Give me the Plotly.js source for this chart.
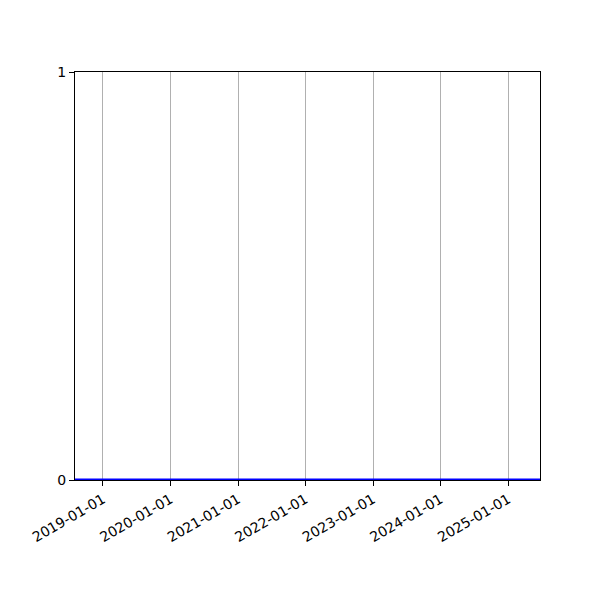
<!DOCTYPE html>
<html><head><meta charset="utf-8">
<script src="https://cdn.plot.ly/plotly-3.0.1.min.js"></script>
<style>body{margin:0;background:#fff}#c{width:600px;height:600px}</style>
</head><body><div id="c"></div>
<script>
const dates = ['2018-08-01','2019-01-01','2020-01-01','2021-01-01','2022-01-01','2023-01-01','2024-01-01','2025-01-01','2025-07-01'];
const values = [0,0,0,0,0,0,0,0,0];
const tickVals = ['2019-01-01','2020-01-01','2021-01-01','2022-01-01','2023-01-01','2024-01-01','2025-01-01'];
const yTicks = [0,1];

Plotly.newPlot('c',[{
  x: dates, y: values, type:'scatter', mode:'lines',
  line:{color:'#0000ff', width:3}, hoverinfo:'skip'
}],{
  width:600,height:600,
  margin:{l:75,r:60,t:72,b:120},
  paper_bgcolor:'#fff',plot_bgcolor:'#fff',
  showlegend:false,
  font:{family:'DejaVu Sans',size:14,color:'#000'},
  xaxis:{
    type:'date', range:['2018-08-03','2025-06-22'],
    tickvals:tickVals, ticktext:tickVals, tickangle:-30,
    showgrid:true, gridcolor:'#b0b0b0', gridwidth:1,
    ticks:'outside', ticklen:5, tickcolor:'#000',
    showline:true, linecolor:'#000', linewidth:1, mirror:true,
    zeroline:false
  },
  yaxis:{
    range:[0,1], tickvals:yTicks, ticktext:yTicks.map(String),
    showgrid:false, ticks:'outside', ticklen:5, tickcolor:'#000',
    showline:true, linecolor:'#000', linewidth:1, mirror:true,
    zeroline:false
  }
},{staticPlot:true});
</script></body></html>
